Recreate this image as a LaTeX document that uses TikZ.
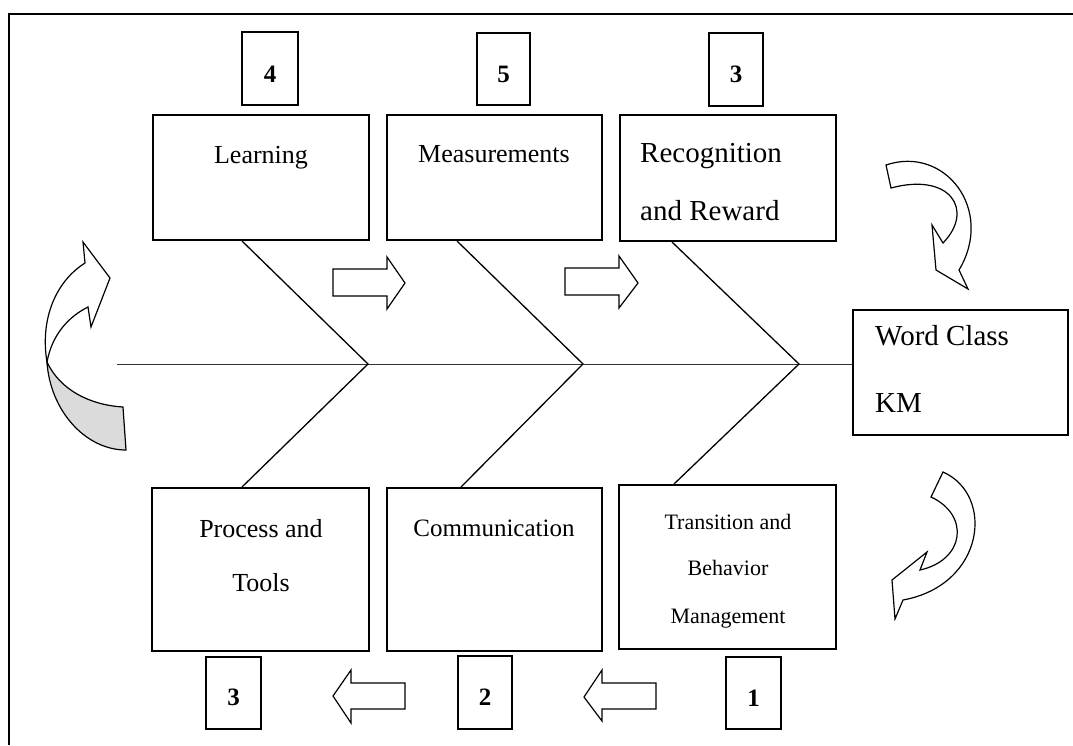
\documentclass[tikz,border=0pt]{standalone}
\usepackage{fontspec}
\setmainfont{Liberation Serif}
\begin{document}
\begin{tikzpicture}[x=1pt,y=-1pt,
  box/.style={draw, line width=2pt, rectangle, inner sep=0pt},
  numbox/.style={draw, line width=2pt, rectangle, inner sep=0pt, minimum width=55pt, minimum height=73pt},
  bone/.style={draw, line width=1.3pt},
  spine/.style={draw, line width=1pt, black!80},
  blockarrow/.style={draw, line width=1.2pt, fill=white, line join=miter},
  curvarrow/.style={draw, line width=1.2pt, fill=white, line join=miter},
  numtxt/.style={font=\fontsize{25}{28}\selectfont\bfseries, inner sep=0pt, anchor=base},
  ctxt/.style={inner sep=0pt, anchor=base},
  ltxt/.style={inner sep=0pt, anchor=base west}
]
\useasboundingbox (0,0) rectangle (1073,745);
% frame
\draw[line width=2.6pt] (1073,14) -- (9,14) -- (9,745);

% main boxes
\node[box, minimum width=216pt, minimum height=125pt] (learn) at (261,177.5) {};
\node[box, minimum width=215pt, minimum height=125pt] (meas) at (494.5,177.5) {};
\node[box, minimum width=216pt, minimum height=126pt] (rec) at (728,178) {};
\node[box, minimum width=215pt, minimum height=125pt] (wc) at (960.5,372.5) {};
\node[box, minimum width=217pt, minimum height=163pt] (proc) at (260.5,569.5) {};
\node[box, minimum width=215pt, minimum height=163pt] (comm) at (494.5,569.5) {};
\node[box, minimum width=217pt, minimum height=164pt] (trans) at (727.5,567) {};

% texts
\node[ctxt, font=\fontsize{26}{30}\selectfont] (tlearn) at (261,163) {Learning};
\node[ctxt, font=\fontsize{26}{30}\selectfont] (tmeas) at (494,162) {Measurements};
\node[ltxt, font=\fontsize{29}{32}\selectfont] (trec1) at (640,162) {Recognition};
\node[ltxt, font=\fontsize{29}{32}\selectfont] (trec2) at (640,220) {and Reward};
\node[ltxt, font=\fontsize{29}{32}\selectfont] (twc1) at (875,345) {Word Class};
\node[ltxt, font=\fontsize{29}{32}\selectfont] (twc2) at (875,412) {KM};
\node[ctxt, font=\fontsize{26}{30}\selectfont] (tproc1) at (261,537) {Process and};
\node[ctxt, font=\fontsize{26}{30}\selectfont] (tproc2) at (261,591) {Tools};
\node[ctxt, font=\fontsize{25}{30}\selectfont] (tcomm) at (494,536) {Communication};
\node[ctxt, font=\fontsize{22}{26}\selectfont] (ttr1) at (728,529) {Transition and};
\node[ctxt, font=\fontsize{22}{26}\selectfont] (ttr2) at (728,575) {Behavior};
\node[ctxt, font=\fontsize{22}{26}\selectfont] (ttr3) at (728,623) {Management};

% number boxes
\node[numbox, minimum width=56pt] (n4) at (270,68.5) {};
\node[numbox, minimum width=53pt, minimum height=72pt] (n5) at (503.5,69) {};
\node[numbox, minimum width=54pt] (n3t) at (736,69.5) {};
\node[numbox, minimum height=72pt] (n3b) at (233.5,693) {};
\node[numbox, minimum width=54pt] (n2) at (485,692.5) {};
\node[numbox, minimum height=72pt] (n1) at (753.5,693) {};
\node[numtxt] (d4) at (270,82) {4};
\node[numtxt] (d5) at (503.5,82) {5};
\node[numtxt] (d3t) at (736,82) {3};
\node[numtxt] (d3b) at (233.5,705) {3};
\node[numtxt] (d2) at (485,705) {2};
\node[numtxt] (d1) at (753.5,706) {1};

% spine and bones
\coordinate (sp) at (117,364);
\coordinate (v1) at (368,364);
\coordinate (v2) at (583,364);
\coordinate (v3) at (799,364);
\draw[spine] (sp) -- (sp -| wc.west);
\draw[bone] ([xshift=90pt]learn.south west) -- (v1) -- ([xshift=91pt]proc.north west);
\draw[bone] ([xshift=71pt]meas.south west) -- (v2) -- ([xshift=75pt]comm.north west);
\draw[bone] ([xshift=53pt]rec.south west) -- (v3) -- ([xshift=56pt]trans.north west);

% straight block arrows
\draw[blockarrow] (333,269) -- (387,269) -- (387,257) -- (405,283) -- (387,309) -- (387,296) -- (333,296) -- cycle;
\draw[blockarrow] (565,268) -- (619,268) -- (619,256) -- (638,283) -- (619,308) -- (619,295) -- (565,295) -- cycle;
\draw[blockarrow] (405,683) -- (351,683) -- (351,670) -- (333,696) -- (351,723) -- (351,709) -- (405,709) -- cycle;
\draw[blockarrow] (656,683) -- (602,683) -- (602,670) -- (584,697) -- (602,721) -- (602,709) -- (656,709) -- cycle;

% left curved arrow (tail shaded)
\draw[curvarrow, fill=gray!28] (47,362) .. controls (50,410) and (85,450) .. (126,450) -- (123,407) .. controls (90,405) and (60,390) .. (47,362) -- cycle;
\draw[curvarrow] (47,362) .. controls (40,320) and (55,282) .. (85,263) -- (83,242) -- (110,278) -- (91,327) -- (88,307) .. controls (68,317) and (52,335) .. (47,362) -- cycle;

% top right curved arrow
\draw[curvarrow] (886,165) .. controls (945,145) and (995,210) .. (959,270) -- (968,289) -- (936,270) -- (932,225) -- (943,243) .. controls (975,210) and (950,172) .. (891,188) -- cycle;

% bottom right curved arrow
\draw[curvarrow] (943,472) .. controls (995,495) and (985,585) .. (903,600) -- (895,619) -- (892,580) -- (927,552) -- (920,570) .. controls (965,560) and (970,515) .. (931,497) -- cycle;
\end{tikzpicture}
\end{document}
